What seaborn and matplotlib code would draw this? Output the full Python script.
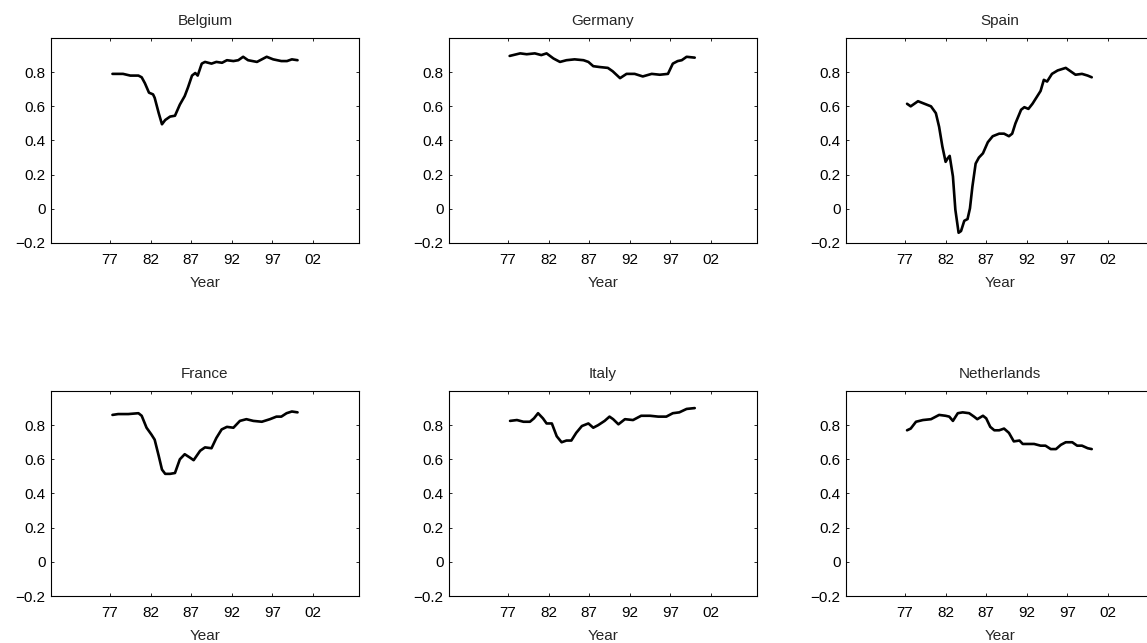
import numpy as np
import pandas as pd
import matplotlib
matplotlib.use("Agg")
import matplotlib.pyplot as plt
import seaborn as sns

countries = ["Belgium", "Germany", "Spain", "France", "Italy", "Netherlands"]

belgium_x = [77.3, 78.6, 79.5, 80.5, 80.9, 81.3, 81.8, 82.3, 82.5, 83.0, 83.4, 83.8, 84.4, 85.0,
             85.6, 86.2, 86.6, 87.1, 87.5, 87.8, 88.3, 88.7, 89.5, 90.1, 90.8, 91.4, 92.2, 92.8,
             93.4, 94.0, 95.1, 96.3, 97.1, 98.1, 98.8, 99.4, 100.1]
belgium_y = [0.79, 0.79, 0.78, 0.78, 0.77, 0.735, 0.68, 0.67, 0.65, 0.56, 0.495, 0.52, 0.54, 0.545,
             0.61, 0.66, 0.71, 0.78, 0.795, 0.78, 0.85, 0.86, 0.85, 0.86, 0.855, 0.87, 0.865, 0.87,
             0.89, 0.87, 0.86, 0.89, 0.875, 0.865, 0.865, 0.875, 0.87]

germany_x = [77.2, 78.5, 79.3, 80.3, 81.1, 81.75, 82.6, 83.4, 84.2, 85.2, 86.3, 86.9, 87.5, 88.3,
             89.3, 89.9, 90.8, 91.6, 92.6, 93.6, 94.7, 95.7, 96.7, 97.3, 97.9, 98.4, 99.0, 100.0]
germany_y = [0.895, 0.91, 0.905, 0.91, 0.90, 0.91, 0.88, 0.86, 0.87, 0.875, 0.87, 0.86, 0.835, 0.83,
             0.825, 0.805, 0.765, 0.79, 0.79, 0.775, 0.79, 0.785, 0.79, 0.85, 0.865, 0.87, 0.89, 0.885]

spain_x = [77.25, 77.7, 78.6, 79.4, 80.2, 80.8, 81.2, 81.6, 82.0, 82.25, 82.5, 82.9, 83.2, 83.6,
           83.9, 84.3, 84.7, 85.0, 85.3, 85.7, 86.1, 86.6, 87.2, 87.8, 88.6, 89.2, 89.8, 90.2,
           90.6, 91.3, 91.7, 92.2, 92.7, 93.3, 93.7, 94.1, 94.5, 95.1, 95.8, 96.8, 97.4, 98.0,
           98.8, 99.5, 100.0]
spain_y = [0.615, 0.60, 0.63, 0.615, 0.60, 0.56, 0.48, 0.365, 0.275, 0.295, 0.31, 0.19, -0.005, -0.14,
           -0.13, -0.07, -0.06, 0.003, 0.13, 0.265, 0.30, 0.325, 0.39, 0.425, 0.44, 0.44, 0.425, 0.44,
           0.50, 0.58, 0.595, 0.585, 0.615, 0.66, 0.69, 0.755, 0.745, 0.79, 0.81, 0.825, 0.805, 0.785,
           0.79, 0.78, 0.77]

france_x = [77.3, 78.0, 79.25, 80.5, 80.9, 81.5, 82.1, 82.5, 83.0, 83.4, 83.8, 84.4, 85.0, 85.6,
            86.2, 86.85, 87.3, 88.1, 88.7, 89.5, 90.1, 90.75, 91.4, 92.2, 93.0, 93.8, 94.65, 95.7,
            96.7, 97.5, 98.1, 98.75, 99.4, 100.1]
france_y = [0.86, 0.865, 0.865, 0.87, 0.855, 0.785, 0.745, 0.715, 0.62, 0.54, 0.515, 0.515, 0.52, 0.60,
            0.63, 0.61, 0.595, 0.65, 0.67, 0.665, 0.725, 0.775, 0.79, 0.785, 0.825, 0.835, 0.825, 0.82,
            0.835, 0.85, 0.85, 0.87, 0.88, 0.875]

italy_x = [77.25, 78.1, 78.9, 79.7, 80.2, 80.7, 81.3, 81.75, 82.4, 83.0, 83.6, 84.2, 84.8, 85.4,
           86.1, 86.9, 87.5, 88.1, 88.9, 89.5, 89.95, 90.6, 91.4, 92.4, 93.4, 94.5, 95.5, 96.5,
           97.3, 98.1, 99.0, 100.0]
italy_y = [0.825, 0.83, 0.82, 0.82, 0.84, 0.87, 0.84, 0.81, 0.81, 0.735, 0.70, 0.71, 0.71, 0.755,
           0.795, 0.81, 0.785, 0.80, 0.825, 0.85, 0.835, 0.805, 0.835, 0.83, 0.855, 0.855, 0.85, 0.85,
           0.87, 0.875, 0.895, 0.90]

netherlands_x = [77.25, 77.7, 78.35, 79.2, 80.2, 80.8, 81.2, 82.0, 82.45, 82.9, 83.5, 84.1, 84.9, 85.5,
                 85.9, 86.6, 87.0, 87.5, 88.0, 88.6, 89.2, 89.8, 90.4, 91.1, 91.5, 92.1, 92.9, 93.7,
                 94.3, 94.95, 95.6, 96.2, 96.8, 97.6, 98.2, 98.8, 99.5, 100.0]
netherlands_y = [0.77, 0.78, 0.82, 0.83, 0.835, 0.85, 0.86, 0.855, 0.85, 0.825, 0.87, 0.875, 0.87, 0.85,
                 0.835, 0.855, 0.84, 0.79, 0.77, 0.77, 0.78, 0.755, 0.705, 0.71, 0.69, 0.69, 0.69, 0.68,
                 0.68, 0.66, 0.66, 0.685, 0.70, 0.70, 0.68, 0.68, 0.665, 0.66]

xticks = [77, 82, 87, 92, 97, 102]
xtick_labels = ["77", "82", "87", "92", "97", "02"]
yticks = [-0.2, 0, 0.2, 0.4, 0.6, 0.8]
ytick_labels = ["\u22120.2", "0", "0.2", "0.4", "0.6", "0.8"]

series = {
    "Belgium": (belgium_x, belgium_y),
    "Germany": (germany_x, germany_y),
    "Spain": (spain_x, spain_y),
    "France": (france_x, france_y),
    "Italy": (italy_x, italy_y),
    "Netherlands": (netherlands_x, netherlands_y),
}

sns.set_style("ticks")
plt.rcParams["font.family"] = ["Liberation Sans", "DejaVu Sans"]
plt.rcParams["axes.unicode_minus"] = True

W, H = 1147, 643
fig = plt.figure(figsize=(W / 100, H / 100), dpi=100)

lefts = [51, 449, 846]
tops = [38, 391]
aw, ah = 308, 205
fs = 11

for i, name in enumerate(countries):
    r, c = divmod(i, 3)
    ax = fig.add_axes([lefts[c] / W, 1 - (tops[r] + ah) / H, aw / W, ah / H])
    xs, ys = series[name]
    df = pd.DataFrame({"year": xs, "value": ys})
    sns.lineplot(data=df, x="year", y="value", ax=ax, color="black", linewidth=1.9)
    ax.set_xlim(69.73, 107.67)
    ax.set_ylim(-0.2, 1.0)
    ax.set_xticks(xticks)
    ax.set_xticklabels(xtick_labels)
    ax.set_yticks(yticks)
    ax.set_yticklabels(ytick_labels)
    ax.tick_params(direction="in", length=2.5, width=0.6, top=True, right=True,
                   labelsize=fs, colors="black", pad=4)
    ax.tick_params(axis="x", pad=7)
    for s in ax.spines.values():
        s.set_visible(True)
        s.set_linewidth(0.8)
        s.set_color("black")
    ax.set_xlabel("Year", fontsize=fs, labelpad=7)
    ax.set_ylabel("")
    ax.set_title(name, fontsize=fs, pad=9.5)

fig.savefig("out.png", dpi=100, facecolor="white")
